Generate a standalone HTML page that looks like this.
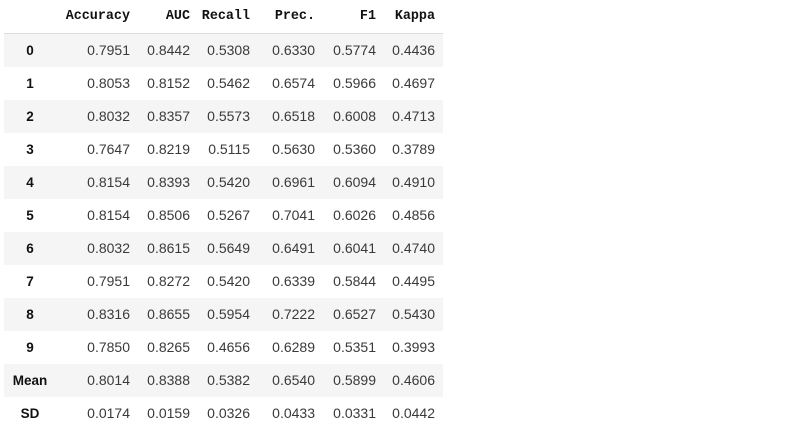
<!DOCTYPE html>
<html><head><meta charset="utf-8"><style>
body{margin:0;background:#fff;width:807px;height:437px;overflow:hidden;font-family:"Liberation Sans",sans-serif;}
#t{position:absolute;left:4px;top:0;width:439px;}
.row{position:absolute;left:0;width:439px;height:33px;}
.row.sh{background:#f5f5f5;}
.c{position:absolute;top:0;height:33px;line-height:33px;font-size:14px;color:#3a3a3a;text-align:right;}
.idx{position:absolute;left:0;width:52px;text-align:center;height:33px;line-height:33px;font-weight:bold;font-size:13.5px;color:#111;}
.h{font-family:"Liberation Mono",monospace;font-weight:bold;font-size:13.4px;color:#111;}
#hline{position:absolute;left:0;top:33px;width:439px;height:1px;background:#ddd;}
</style></head><body>
<div id="t"></div>
<script>
const cols=["Accuracy","AUC","Recall","Prec.","F1","Kappa"];
const idx=["0","1","2","3","4","5","6","7","8","9","Mean","SD"];
const vals=[
["0.7951","0.8442","0.5308","0.6330","0.5774","0.4436"],
["0.8053","0.8152","0.5462","0.6574","0.5966","0.4697"],
["0.8032","0.8357","0.5573","0.6518","0.6008","0.4713"],
["0.7647","0.8219","0.5115","0.5630","0.5360","0.3789"],
["0.8154","0.8393","0.5420","0.6961","0.6094","0.4910"],
["0.8154","0.8506","0.5267","0.7041","0.6026","0.4856"],
["0.8032","0.8615","0.5649","0.6491","0.6041","0.4740"],
["0.7951","0.8272","0.5420","0.6339","0.5844","0.4495"],
["0.8316","0.8655","0.5954","0.7222","0.6527","0.5430"],
["0.7850","0.8265","0.4656","0.6289","0.5351","0.3993"],
["0.8014","0.8388","0.5382","0.6540","0.5899","0.4606"],
["0.0174","0.0159","0.0326","0.0433","0.0331","0.0442"]];
const rights=[126,186,246,311,372,431];
const t=document.getElementById('t');
const hdr=document.createElement('div');hdr.className='row';hdr.style.top='0px';


cols.forEach((c,i)=>{const d=document.createElement('div');d.className='c h';d.textContent=c;d.style.right=(439-rights[i])+'px';


hdr.appendChild(d);});
t.appendChild(hdr);
const hl=document.createElement('div');hl.id='hline';


t.appendChild(hl);
idx.forEach((r,j)=>{const row=document.createElement('div');row.className='row'+(j%2==0?' sh':'');row.style.top=(34+j*33)+'px';


const ix=document.createElement('div');ix.className='idx';ix.textContent=r;


row.appendChild(ix);
vals[j].forEach((v,i)=>{const d=document.createElement('div');d.className='c';d.textContent=v;d.style.right=(439-rights[i])+'px';


row.appendChild(d);});
t.appendChild(row);});
</script>
</body></html>
